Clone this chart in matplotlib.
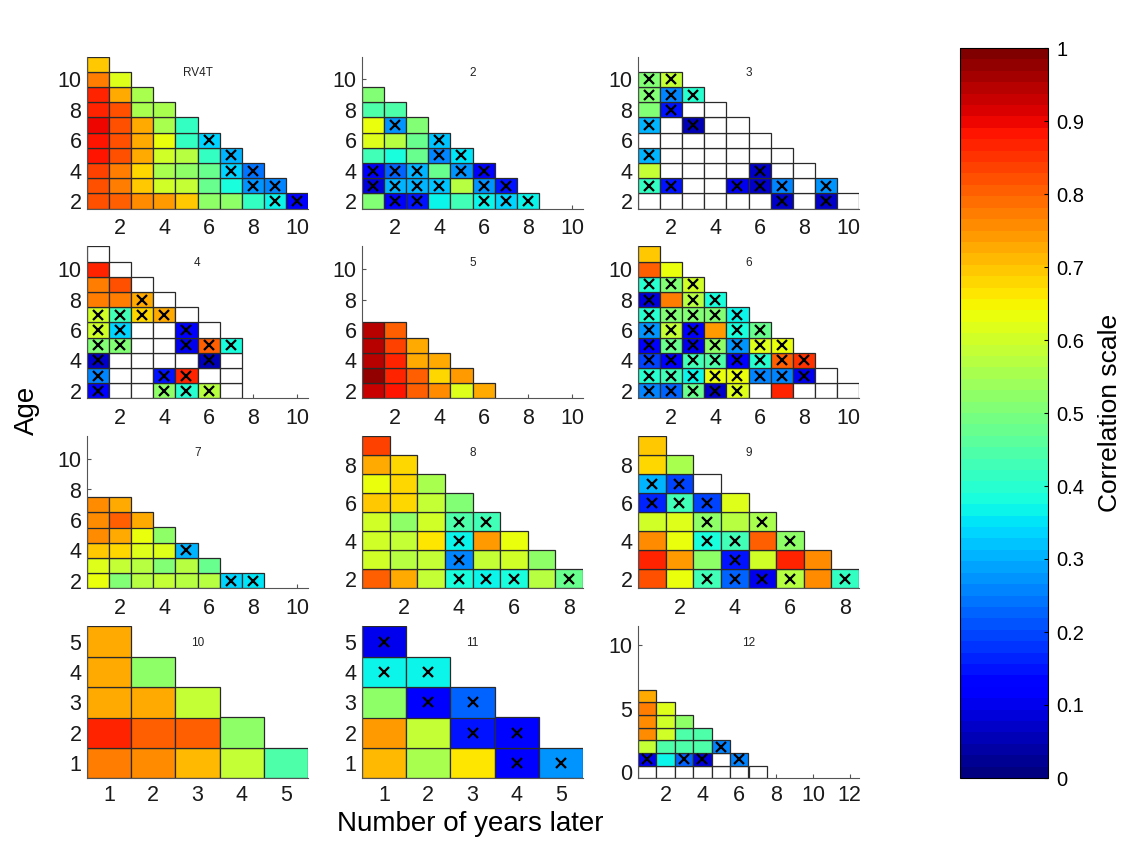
import numpy as np
import matplotlib
matplotlib.use('Agg')
from matplotlib import pyplot as plt
from matplotlib.cm import ScalarMappable
from matplotlib.colors import Normalize

plt.rcParams['font.family'] = ['Liberation Sans', 'DejaVu Sans']

nan = np.nan

# each panel: list of columns (x = 1, 2, ...), values from the lowest age upwards
# nan = empty (white) cell, 'x' in the cross strings = crossed cell

# RV4T
p1_vals = [
    [0.82, 0.82, 0.83, 0.88, 0.88, 0.90, 0.87, 0.87, 0.77, 0.70],
    [0.80, 0.78, 0.78, 0.82, 0.82, 0.82, 0.82, 0.72, 0.62],
    [0.76, 0.70, 0.68, 0.72, 0.72, 0.72, 0.55, 0.55],
    [0.74, 0.60, 0.55, 0.60, 0.63, 0.55, 0.55],
    [0.70, 0.58, 0.52, 0.57, 0.42, 0.42],
    [0.53, 0.48, 0.47, 0.42, 0.33],
    [0.52, 0.38, 0.33, 0.30],
    [0.42, 0.27, 0.24],
    [0.37, 0.25],
    [0.12],
]
p1_cross = ["..........", ".........", "........", ".......", "......",
            "....x", "..xx", ".xx", "xx", "x"]

p2_vals = [
    [0.50, 0.08, 0.12, 0.43, 0.62, 0.63, 0.45, 0.50],
    [0.12, 0.30, 0.22, 0.38, 0.57, 0.27, 0.45],
    [0.15, 0.30, 0.30, 0.48, 0.48, 0.50],
    [0.37, 0.32, 0.47, 0.25, 0.32],
    [0.43, 0.57, 0.28, 0.35],
    [0.37, 0.27, 0.12],
    [0.33, 0.15],
    [0.37],
]
p2_cross = [".xx.....", "xxx..x.", "xxx...", ".x.xx", "..xx", "xxx", "xx", "x"]

p3_vals = [
    [nan, 0.42, 0.58, 0.30, nan, 0.30, 0.50, 0.50, 0.50],
    [nan, 0.15, nan, nan, nan, nan, 0.15, 0.25, 0.58],
    [nan, nan, nan, nan, nan, 0.05, nan, 0.40],
    [nan, nan, nan, nan, nan, nan, nan],
    [nan, 0.10, nan, nan, nan, nan],
    [nan, 0.07, 0.07, nan, nan],
    [0.07, 0.25, nan, nan],
    [nan, nan, nan],
    [0.07, 0.27],
    [nan],
]
p3_cross = [".x.x.x.xx", ".x....xxx", ".....x.x", ".......", ".x....",
            ".xx..", "xx..", "...", "xx", "."]

p4_vals = [
    [0.12, 0.25, 0.07, 0.50, 0.60, 0.60, 0.77, 0.77, 0.87, nan],
    [nan, nan, nan, 0.50, 0.33, 0.43, 0.77, 0.82, nan],
    [nan, nan, nan, nan, nan, 0.68, 0.72, nan],
    [0.52, 0.15, nan, nan, nan, 0.72, nan],
    [0.40, 0.87, nan, 0.10, 0.12, nan],
    [0.57, nan, 0.06, 0.80, nan],
    [nan, nan, nan, 0.38],
]
p4_cross = ["xxxxxx....", "...xxx...", ".....xx.", "xx...x.", "xx.xx.",
            "x.xx.", "...x"]

p5_vals = [
    [0.93, 0.97, 0.95, 0.95, 0.95],
    [0.88, 0.87, 0.87, 0.84, 0.80],
    [0.80, 0.80, 0.73, 0.73],
    [0.75, 0.68, 0.72],
    [0.62, 0.74],
    [0.72],
]
p5_cross = [".....", ".....", "....", "...", "..", "."]

p6_vals = [
    [0.25, 0.40, 0.20, 0.12, 0.28, 0.40, 0.08, 0.40, 0.80, 0.70],
    [0.22, 0.43, 0.12, 0.48, 0.58, 0.50, 0.77, 0.50, 0.63],
    [0.48, 0.37, 0.43, 0.10, 0.12, 0.50, 0.57, 0.60],
    [0.07, 0.63, 0.45, 0.52, 0.74, 0.50, 0.38],
    [0.62, 0.63, 0.12, 0.28, 0.38, 0.37],
    [nan, 0.25, 0.40, 0.62, 0.47],
    [0.87, 0.25, 0.80, 0.63],
    [nan, 0.10, 0.85],
    [nan, nan],
    [nan],
]
p6_cross = ["xxxxxxxx..", "xxxxxx.x.", "xxxxxxxx", "xxxx.xx", "xxxxxx",
            ".xxxx", ".xxx", ".xx", "..", "."]

p7_vals = [
    [0.63, 0.62, 0.70, 0.76, 0.76, 0.76],
    [0.50, 0.58, 0.68, 0.72, 0.80, 0.72],
    [0.57, 0.57, 0.62, 0.63, 0.72],
    [0.58, 0.50, 0.62, 0.52],
    [0.57, 0.57, 0.30],
    [0.57, 0.48],
    [0.33],
    [0.35],
]
p7_cross = ["......", "......", ".....", "....", "..x", "..", "x", "x"]

p8_vals = [
    [0.80, 0.60, 0.60, 0.60, 0.70, 0.64, 0.72, 0.84],
    [0.72, 0.57, 0.58, 0.52, 0.68, 0.68, 0.68],
    [0.58, 0.58, 0.67, 0.60, 0.58, 0.55],
    [0.38, 0.25, 0.37, 0.45, 0.50],
    [0.37, 0.58, 0.74, 0.43],
    [0.38, 0.60, 0.63],
    [0.57, 0.53],
    [0.48],
]
p8_cross = ["........", ".......", "......", "xxxx.", "x..x", "x..", "..", "x"]

p9_vals = [
    [0.82, 0.87, 0.75, 0.60, 0.17, 0.30, 0.68, 0.70],
    [0.63, 0.74, 0.63, 0.62, 0.43, 0.20, 0.56],
    [0.43, 0.52, 0.38, 0.53, 0.20, nan],
    [0.22, 0.15, 0.43, 0.57, 0.62],
    [0.10, 0.60, 0.80, 0.55],
    [0.57, 0.87, 0.53],
    [0.76, 0.76],
    [0.42],
]
p9_cross = ["....xx..", "....xx.", "x.xxx.", "xxx..", "x..x", "x.x", "..", "x"]

p10_vals = [
    [0.78, 0.86, 0.72, 0.72, 0.72],
    [0.75, 0.80, 0.72, 0.52],
    [0.71, 0.80, 0.58],
    [0.58, 0.52],
    [0.45],
]
p10_cross = [".....", "....", "...", "..", "."]

p11_vals = [
    [0.71, 0.74, 0.52, 0.37, 0.10],
    [0.55, 0.58, 0.12, 0.37],
    [0.67, 0.15, 0.22],
    [0.12, 0.13],
    [0.27],
]
p11_cross = ["...xx", "..xx", ".xx", "xx", "x"]

p12_vals = [
    [nan, 0.10, 0.58, 0.76, 0.76, 0.78, 0.72],
    [nan, 0.37, 0.45, 0.60, 0.60, 0.62],
    [nan, 0.22, 0.45, 0.45, 0.52],
    [nan, 0.08, 0.45, 0.45],
    [nan, nan, 0.25],
    [nan, 0.25],
    [nan],
]
p12_cross = [".x.....", "......", ".x...", ".x..", "..x", ".x", "."]

titles = ["RV4T", "2", "3", "4", "5", "6", "7", "8", "9", "10", "11", "12"]

# (values, crosses, first age, xmax, ylim, xticks, yticks)
panels = [
    (p1_vals, p1_cross, 2, 10.5, (1.5, 11.5), range(2, 11, 2), range(2, 11, 2)),
    (p2_vals, p2_cross, 2, 10.5, (1.5, 11.5), range(2, 11, 2), range(2, 11, 2)),
    (p3_vals, p3_cross, 2, 10.5, (1.5, 11.5), range(2, 11, 2), range(2, 11, 2)),
    (p4_vals, p4_cross, 2, 10.5, (1.5, 11.5), range(2, 11, 2), range(2, 11, 2)),
    (p5_vals, p5_cross, 2, 10.5, (1.5, 11.5), range(2, 11, 2), range(2, 11, 2)),
    (p6_vals, p6_cross, 2, 10.5, (1.5, 11.5), range(2, 11, 2), range(2, 11, 2)),
    (p7_vals, p7_cross, 2, 10.5, (1.5, 11.5), range(2, 11, 2), range(2, 11, 2)),
    (p8_vals, p8_cross, 2, 8.5, (1.5, 9.5), range(2, 9, 2), range(2, 9, 2)),
    (p9_vals, p9_cross, 2, 8.5, (1.5, 9.5), range(2, 9, 2), range(2, 9, 2)),
    (p10_vals, p10_cross, 1, 5.5, (0.5, 5.5), range(1, 6), range(1, 6)),
    (p11_vals, p11_cross, 1, 5.5, (0.5, 5.5), range(1, 6), range(1, 6)),
    (p12_vals, p12_cross, 0, 12.5, (-0.5, 11.5), range(2, 13, 2), range(0, 11, 5)),
]

W, H = 1127, 848
fig = plt.figure(figsize=(W / 100, H / 100), dpi=100)
cmap = plt.get_cmap('jet', 64)
norm = Normalize(0, 1)

lefts = [87, 362, 638]
bottoms = [208.6, 398.3, 588.3, 778.3]
aw, ah = 221, 152

for k, (vals, cross, age0, xmax, ylim, xt, yt) in enumerate(panels):
    r, c = divmod(k, 3)
    ax = fig.add_axes([lefts[c] / W, 1 - bottoms[r] / H, aw / W, ah / H])
    for i, col in enumerate(vals):
        x = i + 1
        ages = age0 + np.arange(len(col))
        colors = ['white' if np.isnan(v) else cmap(norm(v)) for v in col]
        ax.bar(np.full(len(col), x), 1, bottom=ages - 0.5, width=1,
               color=colors, edgecolor='#2a2a2a', linewidth=0.9, zorder=2)
        cx = [a for a, m in zip(ages, cross[i]) if m == 'x']
        ax.plot([x] * len(cx), cx, 'x', color='black', ms=7, mew=1.6, zorder=3)
    ax.set_xlim(0.5, xmax)
    ax.set_ylim(*ylim)
    ax.set_xticks(list(xt))
    ax.set_yticks(list(yt))
    for s in ['top', 'right']:
        ax.spines[s].set_visible(False)
    for s in ['left', 'bottom']:
        ax.spines[s].set_color('#555555')
        ax.spines[s].set_linewidth(0.8)
    ax.tick_params(direction='in', length=3, width=0.8, color='#555555',
                   labelsize=15.5, labelcolor='#1a1a1a')
    ax.tick_params(axis='x', pad=7 if r < 3 else 5)
    ax.tick_params(axis='y', pad=4)
    ax.text(0.5, 0.89, titles[k], transform=ax.transAxes, ha='center',
            va='center', fontsize=8.5, color='#222222', zorder=5)

fig.text(0.024, 0.516, 'Age', rotation=90, ha='center', va='center', fontsize=20)
fig.text(0.417, 0.028, 'Number of years later', ha='center', va='center', fontsize=20)

cax = fig.add_axes([960 / W, 1 - 778 / H, 88 / W, 730 / H])
cb = fig.colorbar(ScalarMappable(norm=norm, cmap=cmap), cax=cax)
cb.set_ticks(np.linspace(0, 1, 11))
cb.set_ticklabels(['0', '0.1', '0.2', '0.3', '0.4', '0.5', '0.6', '0.7', '0.8', '0.9', '1'])
cb.ax.tick_params(labelsize=14.5, length=3, direction='in', pad=6)
cb.outline.set_linewidth(0.8)
cb.set_label('Correlation scale', fontsize=19, labelpad=10)

fig.savefig('out.png', dpi=100)
